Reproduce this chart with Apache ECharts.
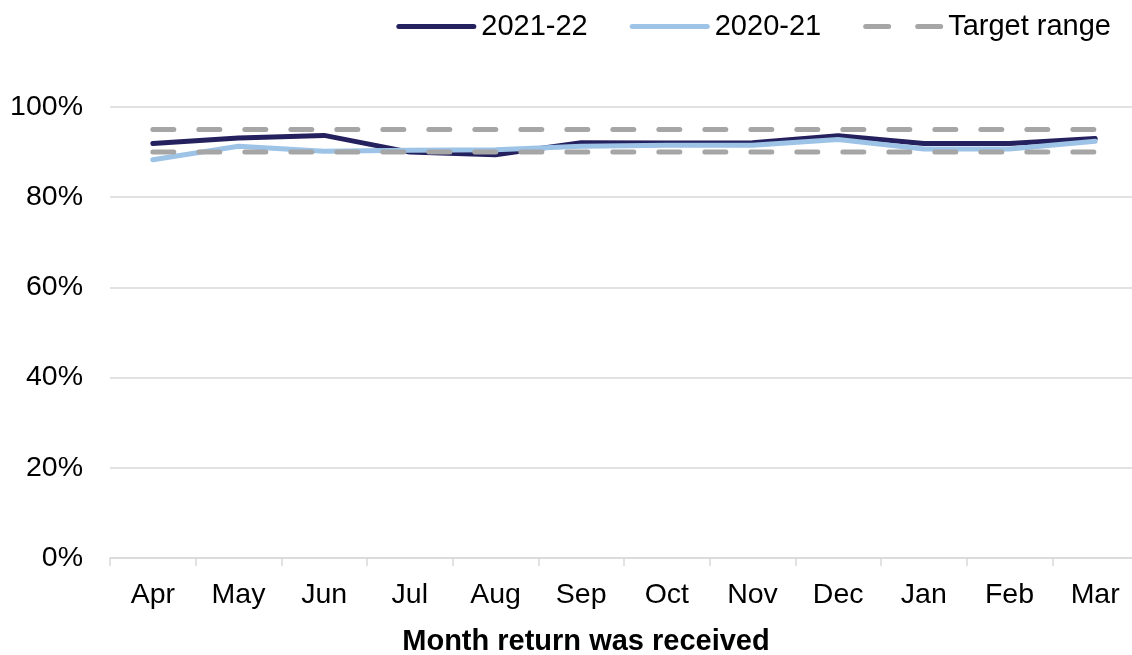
<!DOCTYPE html>
<html>
<head>
<meta charset="utf-8">
<script src="https://cdn.jsdelivr.net/npm/echarts@6/dist/echarts.min.js"></script>
<style>
  html, body { margin: 0; padding: 0; background: #fff; }
  #chart { width: 1132px; height: 655px; }
</style>
</head>
<body>
<div id="chart"></div>
<script>
const months = ['Apr', 'May', 'Jun', 'Jul', 'Aug', 'Sep', 'Oct', 'Nov', 'Dec', 'Jan', 'Feb', 'Mar'];
const values2122 = [91.9, 93.1, 93.7, 90.0, 89.4, 92.1, 92.0, 92.1, 93.6, 91.9, 91.9, 93.0];
const values2021 = [88.3, 91.3, 90.2, 90.4, 90.5, 91.3, 91.5, 91.5, 92.8, 90.7, 90.7, 92.4];
const targetHigh = [95, 95, 95, 95, 95, 95, 95, 95, 95, 95, 95, 95];
const targetLow = [90, 90, 90, 90, 90, 90, 90, 90, 90, 90, 90, 90];
const yTicks = [0, 20, 40, 60, 80, 100];

const chartDom = document.getElementById('chart');
const chart = echarts.init(chartDom);

const font = 'Liberation Sans, Arial, sans-serif';
const dashStyle = {
    color: '#A6A6A6',
    width: 5,
    type: [21, 25],
    cap: 'round'
};

// legend samples: a rounded bar, and two rounded dashes
const solidIcon = 'path://M2.5,0 L77.5,0 A2.5,2.5 0 0 1 77.5,5 L2.5,5 A2.5,2.5 0 0 1 2.5,0 Z';
const dashIcon = 'path://M2.5,0 L25.5,0 A2.5,2.5 0 0 1 25.5,5 L2.5,5 A2.5,2.5 0 0 1 2.5,0 Z ' +
    'M54.5,0 L77.5,0 A2.5,2.5 0 0 1 77.5,5 L54.5,5 A2.5,2.5 0 0 1 54.5,0 Z';

let option = {
    animation: false,
    textStyle: { fontFamily: font },
    legend: {
        data: [
            { name: '2021-22', icon: solidIcon },
            { name: '2020-21', icon: solidIcon },
            { name: 'Target range', icon: dashIcon }
        ],
        top: 7,
        right: 16,
        itemWidth: 80,
        itemHeight: 5,
        itemGap: 42,
        textStyle: { fontSize: 29, color: '#000', fontFamily: font }
    },
    title: {
        text: 'Month return was received',
        left: 581,
        top: 622,
        textAlign: 'center',
        textStyle: { fontSize: 29, fontWeight: 'bold', color: '#000', fontFamily: font }
    },
    grid: {
        left: 110,
        top: 107,
        width: 1028,
        height: 451,
        containLabel: false,
        outerBoundsMode: 'none'
    },
    xAxis: {
        type: 'category',
        data: months,
        boundaryGap: true,
        axisLine: { lineStyle: { color: '#D9D9D9', width: 1.5 } },
        axisTick: { show: true, length: 8, lineStyle: { color: '#D9D9D9', width: 1.5 } },
        axisLabel: { fontSize: 28.5, color: '#000', margin: 23, fontFamily: font }
    },
    yAxis: {
        type: 'value',
        min: yTicks[0],
        max: yTicks[yTicks.length - 1],
        interval: 20,
        axisLine: { show: false },
        axisTick: { show: false },
        splitLine: { lineStyle: { color: '#D9D9D9', width: 1.5 } },
        axisLabel: {
            fontSize: 28.5,
            color: '#000',
            margin: 27,
            fontFamily: font,
            formatter: '{value}%'
        }
    },
    series: [
        {
            name: '2021-22',
            type: 'line',
            data: values2122,
            symbol: 'none',
            lineStyle: { color: '#25215E', width: 5, cap: 'round' },
            itemStyle: { color: '#25215E' }
        },
        {
            name: '2020-21',
            type: 'line',
            data: values2021,
            symbol: 'none',
            lineStyle: { color: '#9DC3E6', width: 5, cap: 'round' },
            itemStyle: { color: '#9DC3E6' }
        },
        {
            name: 'Target range',
            type: 'line',
            data: targetHigh,
            symbol: 'none',
            lineStyle: dashStyle,
            itemStyle: { color: '#A6A6A6' }
        },
        {
            name: 'Target range',
            type: 'line',
            data: targetLow,
            symbol: 'none',
            lineStyle: dashStyle,
            itemStyle: { color: '#A6A6A6' }
        }
    ]
};

chart.setOption(option);
</script>
</body>
</html>
